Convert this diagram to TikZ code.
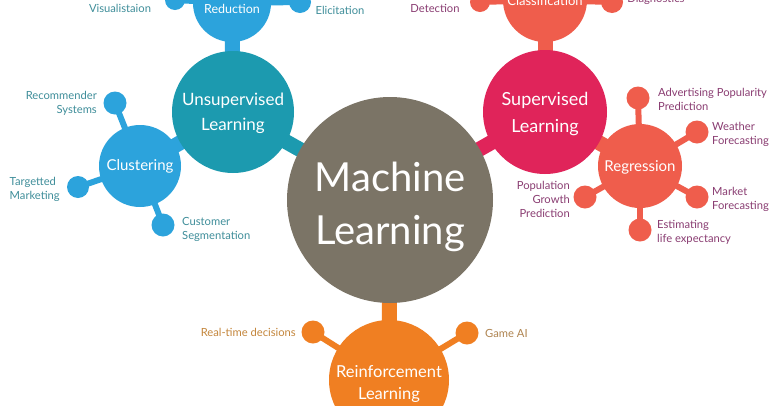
\documentclass[tikz,border=0pt]{standalone}
\usepackage{fontspec}
\setmainfont{Lato}
\usetikzlibrary{backgrounds}
\definecolor{mlgray}{HTML}{7B7466}
\definecolor{teal}{HTML}{1C9AAF}
\definecolor{lblue}{HTML}{2CA3DC}
\definecolor{crimson}{HTML}{E0245A}
\definecolor{coral}{HTML}{EF5D4C}
\definecolor{orng}{HTML}{F07F22}
\definecolor{bluetxt}{HTML}{3F8E9A}
\definecolor{purptxt}{HTML}{8A3D72}
\definecolor{orngtxt}{HTML}{C4863C}
\begin{document}
\begin{tikzpicture}[x=1pt,y=-1pt,
  hub/.style={circle, fill=#1, inner sep=0pt},
  knob/.style={circle, fill=#1, inner sep=0pt},
  hubtext/.style={text=white, align=center, inner sep=0pt},
  stub/.style={line width=15pt, draw=#1},
  stem/.style={line width=6pt, draw=#1},
  lab/.style={font=\fontsize{11.2}{14}\selectfont, text=#1, inner sep=0pt},
]
\useasboundingbox (0,0) rectangle (780,405);
\clip (0,0) rectangle (780,405);

% hubs
\node[hub=mlgray, minimum size=206pt] (ml) at (390,200) {};
\node[hub=teal, minimum size=122pt] (uns) at (233,112) {};
\node[hub=lblue, minimum size=78pt] (dim) at (232,3) {};
\node[hub=lblue, minimum size=82pt] (clu) at (140,166) {};
\node[hub=crimson, minimum size=124pt] (sup) at (545,112) {};
\node[hub=coral, minimum size=84pt] (cla) at (545,0) {};
\node[hub=coral, minimum size=84pt] (reg) at (640,166) {};
\node[hub=orng, minimum size=120pt] (rei) at (389,380) {};

% knobs
\node[knob=lblue, minimum size=20pt] (dk1) at (175,0) {};
\node[knob=lblue, minimum size=22pt] (dk2) at (300,2) {};
\node[knob=lblue, minimum size=23pt] (ck1) at (115,103) {};
\node[knob=lblue, minimum size=22pt] (ck2) at (78,187) {};
\node[knob=lblue, minimum size=23pt] (ck3) at (163,225) {};
\node[knob=coral, minimum size=20pt] (clk1) at (480,2) {};
\node[knob=coral, minimum size=22pt] (clk2) at (612,2) {};
\node[knob=coral, minimum size=23pt] (rk1) at (638,98) {};
\node[knob=coral, minimum size=23pt] (rk2) at (697,132) {};
\node[knob=coral, minimum size=23pt] (rk3) at (697,197) {};
\node[knob=coral, minimum size=23pt] (rk4) at (640,230) {};
\node[knob=coral, minimum size=23pt] (rk5) at (585,197) {};
\node[knob=orng, minimum size=23pt] (ek1) at (313,332) {};
\node[knob=orng, minimum size=23pt] (ek2) at (467,333) {};

\begin{pgfonlayer}{background}
\clip (0,0) rectangle (780,405);
\fill[white] (0,0) rectangle (780,405);
\draw[stub=teal] (uns.center) -- (ml.center);
\draw[stub=crimson] (sup.center) -- (ml.center);
\draw[stub=orng] (rei.center) -- (ml.center);
\draw[stub=lblue] (dim.center) -- (uns.center);
\draw[stub=lblue] (clu.center) -- (uns.center);
\draw[stub=coral] (cla.center) -- (sup.center);
\draw[stub=coral] (reg.center) -- (sup.center);
\foreach \k in {dk1,dk2} \draw[stem=lblue] (dim.center) -- (\k.center);
\foreach \k in {ck1,ck2,ck3} \draw[stem=lblue] (clu.center) -- (\k.center);
\foreach \k in {clk1,clk2} \draw[stem=coral] (cla.center) -- (\k.center);
\foreach \k in {rk1,rk2,rk3,rk4,rk5} \draw[stem=coral] (reg.center) -- (\k.center);
\foreach \k in {ek1,ek2} \draw[stem=orng] (rei.center) -- (\k.center);
\end{pgfonlayer}

% hub texts
\node[hubtext, font=\fontsize{40}{53}\selectfont] (mlt) at (390,207) {Machine\\Learning};
\node[hubtext, font=\fontsize{17}{25}\selectfont] (unst) at (233,113) {Unsupervised\\Learning};
\node[hubtext, font=\fontsize{12.5}{18}\selectfont] (dimt) at (232,0) {Dimensionality\\Reduction};
\node[hubtext, font=\fontsize{15}{18}\selectfont] (clut) at (140,166) {Clustering};
\node[hubtext, font=\fontsize{18}{27}\selectfont] (supt) at (545,114) {Supervised\\Learning};
\node[hubtext, font=\fontsize{13}{16}\selectfont] (clat) at (545,1) {Classification};
\node[hubtext, font=\fontsize{15}{18}\selectfont] (regt) at (640,167) {Regression};
\node[hubtext, font=\fontsize{16.5}{22}\selectfont] (reit) at (389,384) {Reinforcement\\Learning};

% labels
\node[lab=bluetxt] (l1) at (120,8) {Visualistaion};
\node[lab=bluetxt] (l2) at (340,10) {Elicitation};
\node[lab=bluetxt, anchor=east, align=right] (l3) at (97,103) {Recommender\\Systems};
\node[lab=bluetxt, anchor=east, align=left] (l4) at (60,189) {Targetted\\Marketing};
\node[lab=bluetxt, anchor=west, align=left] (l5) at (182,229) {Customer\\Segmentation};
\node[lab=purptxt] (l6) at (435,8) {Detection};
\node[lab=purptxt] (l7) at (656,-1) {Diagnostics};
\node[lab=purptxt, anchor=west, align=left] (l8) at (658,99.5) {Advertising Popularity\\Prediction};
\node[lab=purptxt, anchor=west, align=left] (l9) at (712,134) {Weather\\Forecasting};
\node[lab=purptxt, anchor=west, align=left] (l10) at (712,199) {Market\\Forecasting};
\node[lab=purptxt, anchor=west, align=left] (l11) at (657,232) {Estimating\\life expectancy};
\node[lab=purptxt, anchor=east, align=right] (l12) at (570,199) {Population\\Growth\\Prediction};
\node[lab=orngtxt, anchor=east] (l13) at (296,332) {Real-time decisions};
\node[lab=orngtxt!70!gray, anchor=west] (l14) at (485,333) {Game AI};
\end{tikzpicture}
\end{document}
